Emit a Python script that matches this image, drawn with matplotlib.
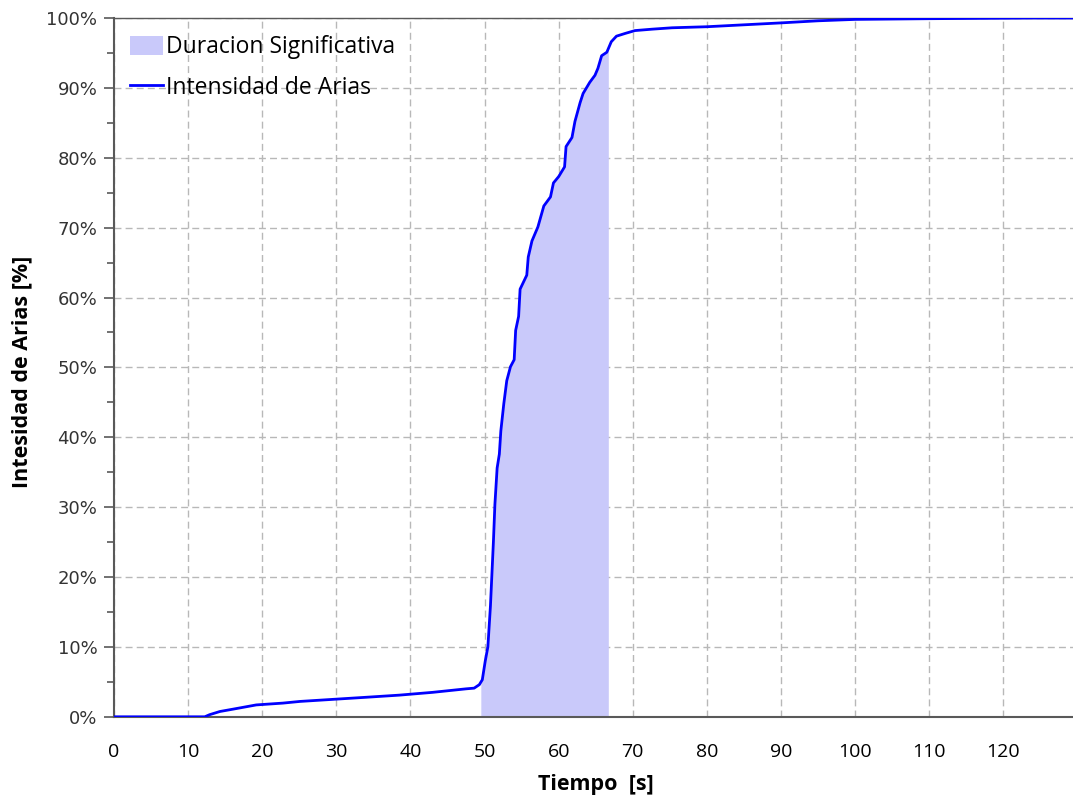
import numpy as np
import matplotlib.pyplot as plt
from matplotlib.patches import Patch
from matplotlib.lines import Line2D
from matplotlib.ticker import MultipleLocator, FuncFormatter

# Arias intensity curve (time [s], percent)
tiempo = [0.0, 7.5, 12.25, 12.9, 14.3, 16.1, 19.2, 22.8, 25.1, 29.6, 34.1, 38.5,
          43.0, 47.5, 48.6, 49.3, 49.7, 50.1, 50.45, 50.8, 51.0, 51.2, 51.4,
          51.7, 52.0, 52.2, 52.6, 53.0, 53.5, 54.0, 54.2, 54.6, 54.8, 55.7,
          55.9, 56.4, 57.2, 58.0, 58.9, 59.3, 60.0, 60.8, 61.0, 61.8, 62.2,
          62.9, 63.3, 64.2, 64.9, 65.3, 65.8, 66.5, 67.1, 67.8, 69.0, 70.3,
          72.6, 75.3, 80.0, 90.0, 95.0, 100.0, 110.0, 124.0, 130.0]
intensidad = [0.0, 0.0, 0.0, 0.3, 0.76, 1.1, 1.7, 1.96, 2.2, 2.5, 2.8, 3.1,
              3.5, 4.0, 4.1, 4.6, 5.3, 8.0, 10.0, 15.9, 20.5, 25.1, 30.4,
              35.6, 37.6, 40.9, 44.8, 48.1, 50.1, 51.1, 55.3, 57.3, 61.2, 63.2,
              65.8, 68.1, 70.1, 73.1, 74.4, 76.4, 77.3, 78.7, 81.6, 82.9, 85.2,
              87.9, 89.2, 90.8, 91.8, 92.8, 94.6, 95.1, 96.6, 97.4, 97.8, 98.2,
              98.4, 98.6, 98.75, 99.3, 99.6, 99.8, 99.9, 100.0, 100.0]

# significant duration (5% - 95%)
t_ini = 49.5
t_fin = 66.7

t = np.array(tiempo)
ia = np.array(intensidad)

fig = plt.figure(figsize=(10.73, 8), dpi=100)
ax = fig.add_axes([0.1062, 0.104, 0.8938, 0.8735])

# shaded region under the curve
tt = np.concatenate(([t_ini], t[(t > t_ini) & (t < t_fin)], [t_fin]))
yy = np.interp(tt, t, ia)
ax.fill_between(tt, 0, yy, color="#c9c9fa", linewidth=0, zorder=1)
ax.plot(t, ia, color="#0000ff", linewidth=2, zorder=3)

ax.set_xlim(0, 129.4)
ax.set_ylim(0, 100)
ax.xaxis.set_major_locator(MultipleLocator(10))
ax.yaxis.set_major_locator(MultipleLocator(10))
ax.yaxis.set_minor_locator(MultipleLocator(5))
ax.yaxis.set_major_formatter(FuncFormatter(lambda v, p: "%d%%" % v))

ax.grid(True, which="major", color="#b8b8b8", linestyle=(0, (5, 3)), linewidth=1, zorder=0)
ax.set_axisbelow(True)

for s in ["left", "bottom", "top"]:
    ax.spines[s].set_color("#595959")
ax.spines["left"].set_linewidth(1.5)
ax.spines["bottom"].set_linewidth(1.5)
ax.spines["top"].set_linewidth(1.0)
ax.spines["right"].set_visible(False)

ax.tick_params(axis="x", length=0, pad=19, labelsize=14)
ax.tick_params(axis="y", which="major", length=7, width=1.2, color="#595959", labelsize=13, pad=5)
ax.tick_params(axis="y", which="minor", length=5, width=1.2, color="#595959")
for lb in ax.get_xticklabels():
    lb.set_family(["Open Sans", "DejaVu Sans"])
for lb in ax.get_yticklabels():
    lb.set_family(["DejaVu Sans"])
    lb.set_color("#333333")

ax.set_xlabel("Tiempo  [s]", fontsize=15.5, fontweight="bold", family=["Open Sans", "DejaVu Sans"], va="center")
ax.set_ylabel("Intesidad de Arias [%]", fontsize=15.5, fontweight="bold", family=["Open Sans", "DejaVu Sans"], va="center")
ax.xaxis.set_label_coords((596 - 114) / 959, -(785 - 717) / 699)
ax.yaxis.set_label_coords(-(114 - 22) / 959, (717 - 372) / 699)

handles = [Patch(facecolor="#c9c9fa", edgecolor="none"),
           Line2D([0], [0], color="#0000ff", linewidth=2)]
ax.legend(handles, ["Duracion Significativa", "Intensidad de Arias"],
          loc="upper left", bbox_to_anchor=(0.0, 0.998), frameon=False,
          prop={"family": ["Open Sans", "DejaVu Sans"], "size": 16.5},
          handlelength=1.45, handleheight=0.9, handletextpad=0.12, labelspacing=0.72,
          borderaxespad=0.3)

fig.savefig("out.png", dpi=100)
